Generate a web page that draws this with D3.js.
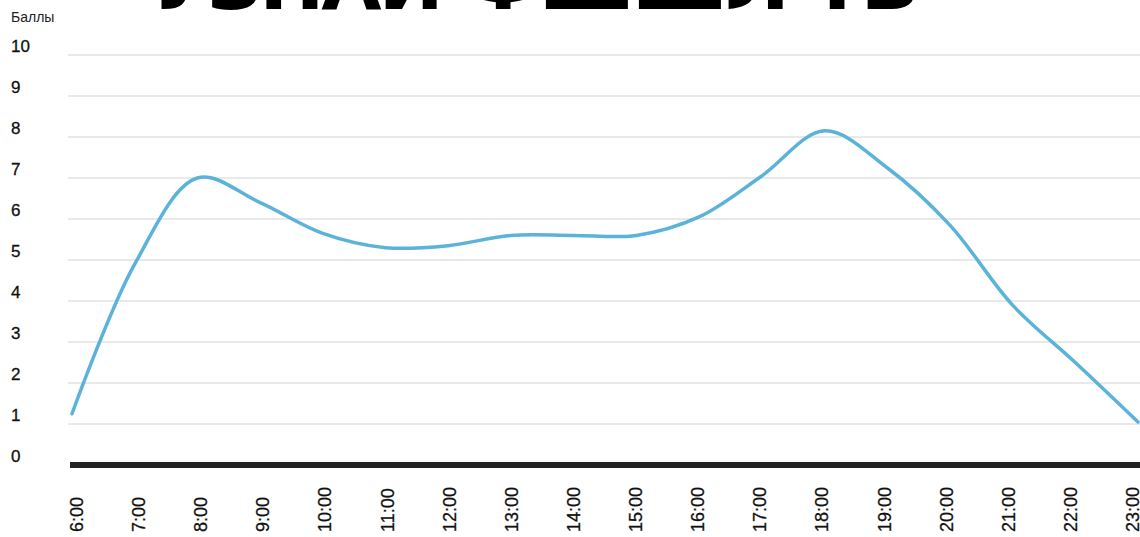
<!DOCTYPE html>
<html>
<head>
<meta charset="utf-8">
<script src="https://cdn.jsdelivr.net/npm/d3@7"></script>
<style>
  html, body { margin: 0; padding: 0; background: #fff; }
  svg { display: block; }
</style>
</head>
<body>
<svg id="chart" width="1140" height="537"></svg>
<script>
// Hourly score values, 6:00 through 23:00
const hours = ["6:00","7:00","8:00","9:00","10:00","11:00","12:00","13:00","14:00","15:00",
               "16:00","17:00","18:00","19:00","20:00","21:00","22:00","23:00"];
const scores = [1.25, 4.9, 7.0, 6.4, 5.65, 5.3, 5.35, 5.6, 5.6, 5.6,
                6.05, 7.05, 8.15, 7.25, 5.85, 3.9, 2.5, 1.05];
const yTicks = [0, 1, 2, 3, 4, 5, 6, 7, 8, 9, 10];
const titleText = "УЗНАЙ ФШШЛ ТЬ";
const yLabel = "Баллы";

const svg = d3.select("#chart");
const labelFont = "'Liberation Sans Narrow', 'Arial Narrow', 'Liberation Sans', sans-serif";

const x = d3.scalePoint().domain(hours).range([72, 1138]);
const xLabel = d3.scalePoint().domain(hours).range([77, 1133]);
const y = d3.scaleLinear().domain([0, 10]).range([465, 55]);

// Banner heading, mostly above the top edge
svg.append("text")
  .attr("x", 535).attr("y", 9)
  .attr("text-anchor", "middle")
  .attr("font-family", "'DejaVu Sans', sans-serif")
  .attr("font-weight", "bold")
  .attr("font-size", 78)
  .attr("textLength", 770)
  .attr("lengthAdjust", "spacing")
  .attr("fill", "#000")
  .text(titleText);

// Horizontal grid lines
svg.append("g")
  .selectAll("line")
  .data(yTicks.filter(d => d > 0))
  .join("line")
  .attr("x1", 68).attr("x2", 1140)
  .attr("y1", d => y(d)).attr("y2", d => y(d))
  .attr("stroke", "#e2e2e2")
  .attr("stroke-width", 1.5);

// Baseline at zero
svg.append("line")
  .attr("x1", 70).attr("x2", 1140)
  .attr("y1", y(0)).attr("y2", y(0))
  .attr("stroke", "#222")
  .attr("stroke-width", 6);

// Y tick labels sit above their grid lines
svg.append("g")
  .selectAll("text")
  .data(yTicks)
  .join("text")
  .attr("x", 11)
  .attr("y", d => y(d) - 3)
  .attr("font-family", labelFont)
  .attr("font-size", 17)
  .attr("fill", "#111")
  .attr("stroke", "#111")
  .attr("stroke-width", 0.3)
  .text(d => d);

svg.append("text")
  .attr("x", 11).attr("y", 22)
  .attr("font-family", labelFont)
  .attr("font-size", 14)
  .attr("fill", "#222")
  .text(yLabel);

// Rotated hour labels
svg.append("g")
  .selectAll("text")
  .data(hours)
  .join("text")
  .attr("transform", d => `translate(${xLabel(d) + 6},532) rotate(-90)`)
  .attr("font-family", labelFont)
  .attr("font-size", 18)
  .attr("fill", "#111")
  .attr("stroke", "#111")
  .attr("stroke-width", 0.3)
  .text(d => d);

// Score curve
const line = d3.line()
  .x((d, i) => x(hours[i]))
  .y(d => y(d))
  .curve(d3.curveCatmullRom.alpha(0.5));

svg.append("path")
  .datum(scores)
  .attr("d", line)
  .attr("fill", "none")
  .attr("stroke", "#5cb3d9")
  .attr("stroke-width", 3.5)
  .attr("stroke-linecap", "round");
</script>
</body>
</html>
